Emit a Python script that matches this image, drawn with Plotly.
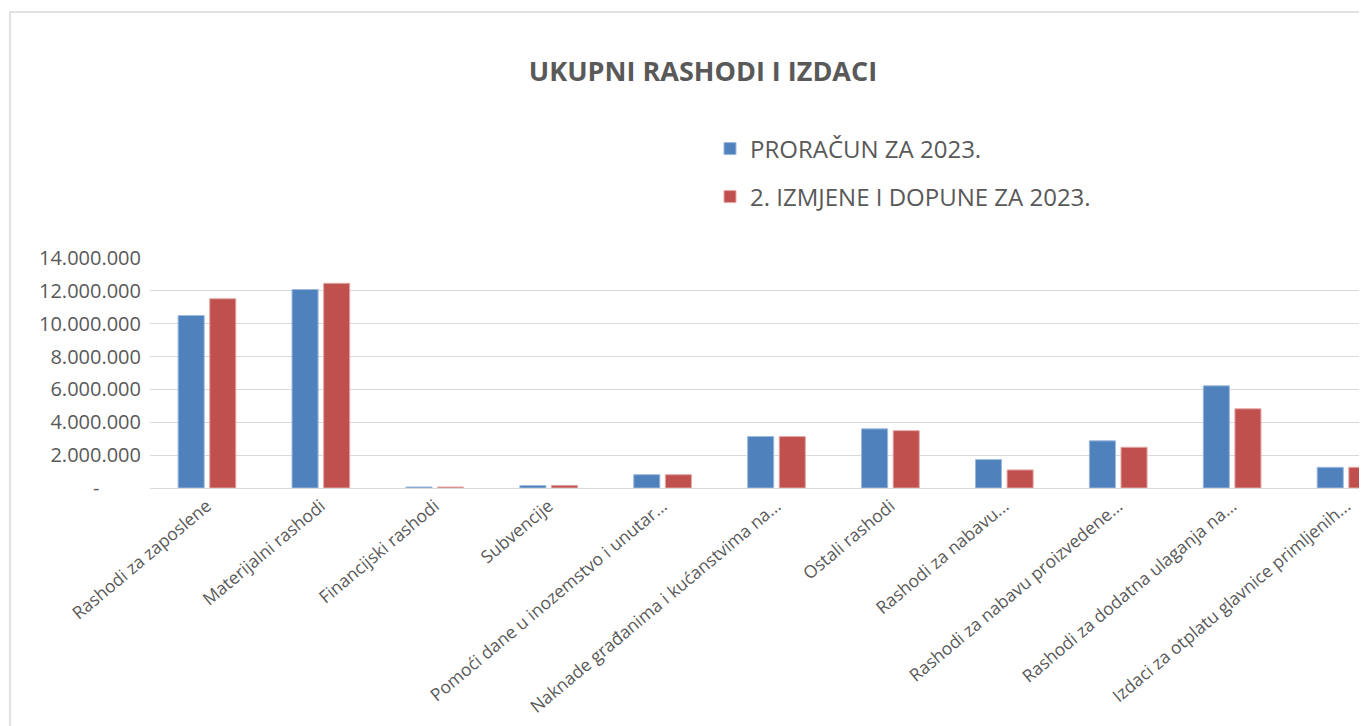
import plotly.graph_objects as go

# Categories (as shown on the axis, truncated like the original)
categories = [
    "Rashodi za zaposlene",
    "Materijalni rashodi",
    "Financijski rashodi",
    "Subvencije",
    "Pomoći dane u inozemstvo i unutar...",
    "Naknade građanima i kućanstvima na...",
    "Ostali rashodi",
    "Rashodi za nabavu...",
    "Rashodi za nabavu proizvedene...",
    "Rashodi za dodatna ulaganja na...",
    "Izdaci za otplatu glavnice primljenih...",
]

proracun_2023 = [10500000, 12080000, 60000, 150000, 810000, 3130000,
                 3600000, 1730000, 2870000, 6220000, 1260000]
izmjene_2023 = [11520000, 12460000, 60000, 160000, 810000, 3130000,
                3490000, 1100000, 2480000, 4820000, 1260000]

y_ticks = [0, 2000000, 4000000, 6000000, 8000000, 10000000, 12000000, 14000000]
y_ticktext = ["-" + "\u00a0" * 8, "2.000.000", "4.000.000", "6.000.000",
              "8.000.000", "10.000.000", "12.000.000", "14.000.000"]

GREY = "#595959"
FONT = "Open Sans"

# page has an 8px body margin, so the figure is sized to fill what is left
W, H = 1359, 718

fig = go.Figure()

fig.add_trace(go.Bar(
    x=list(range(len(categories))),
    y=proracun_2023,
    name="PRORAČUN ZA 2023.",
    marker=dict(color="#4F81BD", line=dict(color="#9DB9DC", width=1)),
    legend="legend",
))

fig.add_trace(go.Bar(
    x=list(range(len(categories))),
    y=izmjene_2023,
    name="2. IZMJENE I DOPUNE ZA 2023.",
    marker=dict(color="#C0504D", line=dict(color="#E3A9A7", width=1)),
    legend="legend2",
))

fig.update_layout(
    width=W,
    height=H,
    margin=dict(l=142, r=0, t=250, b=238),
    paper_bgcolor="white",
    plot_bgcolor="white",
    barmode="group",
    bargap=0.445,
    bargroupgap=0.175,
    font=dict(family=FONT, color=GREY),
    title=dict(
        text="<b>UKUPNI RASHODI I IZDACI</b>",
        xref="container", yref="container",
        x=695 / W, y=1 - 64 / H,
        xanchor="center", yanchor="middle",
        font=dict(family=FONT, size=27, color=GREY),
    ),
    legend=dict(
        x=(702 - 142) / 1217, y=(480 - 141) / 230,
        xanchor="left", yanchor="middle",
        font=dict(family=FONT, size=24, color=GREY),
        bgcolor="rgba(0,0,0,0)",
    ),
    legend2=dict(
        x=(702 - 142) / 1217, y=(480 - 189) / 230,
        xanchor="left", yanchor="middle",
        font=dict(family=FONT, size=24, color=GREY),
        bgcolor="rgba(0,0,0,0)",
    ),
    showlegend=True,
)

fig.update_xaxes(
    tickmode="array",
    tickvals=list(range(len(categories))),
    ticktext=categories,
    range=[-0.5, 10.184],
    tickangle=-40,
    tickfont=dict(family=FONT, size=17.5, color=GREY),
    showgrid=False,
    showline=True,
    linecolor="#D9D9D9",
    linewidth=1,
    ticks="",
)

fig.update_yaxes(
    tickmode="array",
    tickvals=y_ticks,
    ticktext=y_ticktext,
    range=[0, 14000000],
    tickfont=dict(family=FONT, size=20, color=GREY),
    showgrid=True,
    gridcolor="#D9D9D9",
    gridwidth=1,
    zeroline=False,
    ticks="",
    ticklabelstandoff=8,
)

# chart frame (cropped on right and bottom, like the screenshot)
fig.add_shape(
    type="rect", xref="paper", yref="paper",
    x0=(2 - 142) / 1217, x1=(1500 - 142) / 1217,
    y0=(480 - 800) / 230, y1=(480 - 4) / 230,
    line=dict(color="#D9D9D9", width=1.5),
    fillcolor="rgba(0,0,0,0)",
    layer="below",
)

fig.write_html("out.html")
